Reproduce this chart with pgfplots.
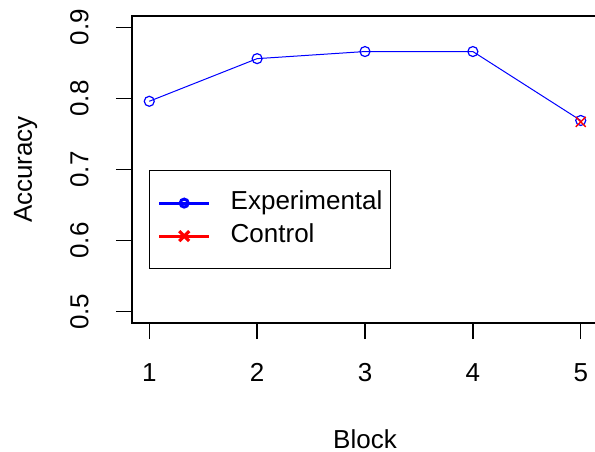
\documentclass[border=0pt]{standalone}
\usepackage{fontspec}
\setmainfont{Liberation Sans}
\usepackage{pgfplots}
\pgfplotsset{compat=1.18}
\begin{document}
\fontsize{13}{15.6}\selectfont
\begin{tikzpicture}
\begin{axis}[
  name=ax,
  at={(0pt,0pt)}, anchor=south west,
  scale only axis,
  width=233pt, height=153.5pt,
  xmin=0.84, xmax=5.16, ymin=0.484, ymax=0.916,
  xtick={1,2,3,4,5}, xticklabels={1,2,3,4,5},
  ytick={0.5,0.6,0.7,0.8,0.9}, yticklabels={0.5,0.6,0.7,0.8,0.9},
  xtick pos=left, ytick pos=left,
  tick align=outside,
  major tick length=8pt,
  axis line style={line width=0.8pt, black},
  every tick/.style={black, line width=0.7pt},
  /pgf/number format/assume math mode=true,
  tick label style={font=\fontsize{13}{15.6}\selectfont},
  xticklabel style={anchor=north, inner sep=0pt},
  xticklabel shift=12pt,
  yticklabel style={rotate=90, anchor=south, inner sep=0pt},
  yticklabel shift=13.5pt,
  xlabel={Block}, ylabel={Accuracy},
  every axis x label/.style={at={(axis description cs:0.5,0)}, anchor=base, yshift=-62.5pt, font=\fontsize{13}{15.6}\selectfont},
  every axis y label/.style={at={(axis description cs:0,0.5)}, xshift=-50pt, rotate=90, anchor=base, font=\fontsize{13}{15.6}\selectfont},
  legend style={at={(0.0365,0.4984)}, anchor=north west, draw=black, line width=0.7pt,
    inner xsep=4pt, inner ysep=10.2pt, row sep=4.5pt,
    font=\fontsize{13}{15.6}\selectfont,
    nodes={inner sep=0pt, text height=9.3pt, text depth=2.7pt},
    /tikz/every odd column/.append style={column sep=10pt},
    /tikz/every even column/.append style={column sep=3pt}},
  legend cell align=left,
  legend image code/.code={\draw[mark repeat=2,mark phase=2,#1] plot coordinates {(0pt,0pt) (12.5pt,0pt) (25pt,0pt)};},
]
\addplot[blue, line width=0.5pt, mark=o, mark size=2.5pt, mark options={line width=0.6pt},
  legend image post style={line width=1.5pt, mark size=2pt, mark options={line width=1.5pt}}]
  coordinates {(1,0.796) (2,0.856) (3,0.866) (4,0.866) (5,0.769)};
\addlegendentry{Experimental}
\addplot[red, line width=0.5pt, mark=x, mark size=3.5pt, mark options={line width=0.7pt},
  legend image post style={line width=1.5pt, mark size=3.5pt, mark options={line width=1.6pt}}]
  coordinates {(5,0.767)};
\addlegendentry{Control}
\end{axis}
\pgfresetboundingbox
\useasboundingbox (-66pt,-64pt) rectangle (231.5pt,161.5pt);
\end{tikzpicture}
\end{document}
